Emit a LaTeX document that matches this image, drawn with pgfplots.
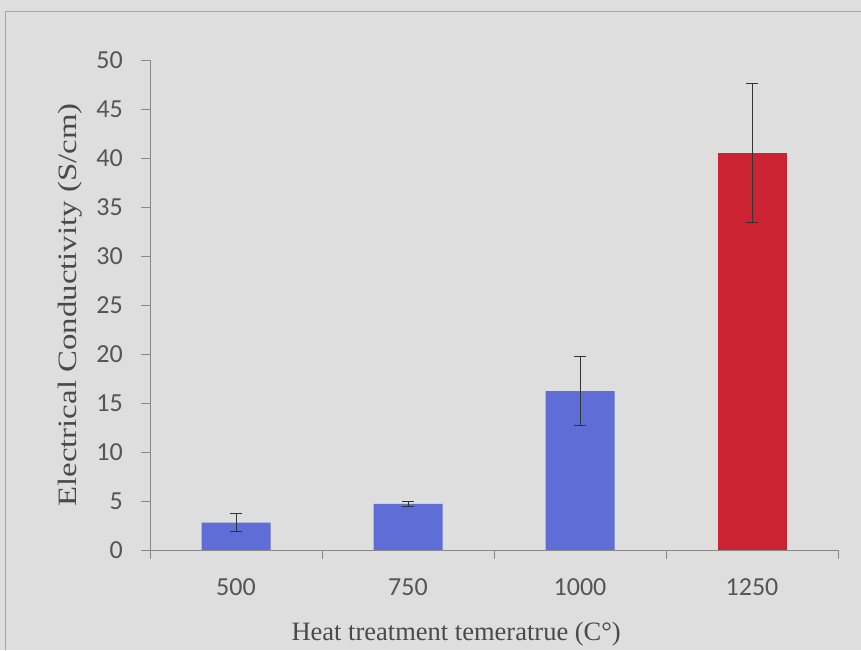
\documentclass[border=0pt]{standalone}
\usepackage{pgfplots}
\pgfplotsset{compat=1.18}
\usepackage{fontspec}
\setmainfont{Liberation Serif}
\newfontfamily\tickfont{Carlito}
\definecolor{bg}{HTML}{DEDEDE}
\definecolor{barblue}{HTML}{5F6ED6}
\definecolor{barred}{HTML}{CC2332}
\definecolor{axisgray}{HTML}{888888}
\definecolor{ticktext}{HTML}{555555}
\definecolor{labeltext}{HTML}{4A4A4A}
\begin{document}
\begin{tikzpicture}
\useasboundingbox (0pt,0pt) rectangle (861pt,650pt);
\fill[bg] (0pt,0pt) rectangle (861pt,650pt);
\draw[gray!70, line width=1pt] (5pt,0pt) -- (5pt,638pt) -- (861pt,638pt);
\begin{axis}[
  at={(150pt,100pt)}, anchor=south west,
  scale only axis, width=688pt, height=490pt,
  xmin=-0.5, xmax=3.5, ymin=0, ymax=50,
  axis x line*=bottom, axis y line*=left,
  axis line style={draw=axisgray, line width=0.9pt},
  xtick={0,1,2,3}, xticklabels={500,750,1000,1250},
  minor xtick={-0.5,0.5,1.5,2.5,3.5},
  major x tick style={draw=none},
  minor x tick style={draw=axisgray, line width=0.9pt},
  ytick={0,5,...,50},
  major y tick style={draw=axisgray, line width=0.9pt},
  tick align=outside, major tick length=9pt, minor tick length=9pt,
  ticklabel style={font=\fontsize{26}{26}\selectfont\tickfont, text=ticktext},
  /pgf/number format/assume math mode=true,
  yticklabel style={anchor=east, inner sep=0pt, xshift=-18pt},
  xticklabel style={anchor=north, inner sep=0pt, yshift=-19pt},
  xlabel={Heat treatment temeratrue (C°)},
  ylabel={\scalebox{1.24}[1]{Electrical Conductivity (S/cm)}},
  label style={font=\fontsize{26.5}{26.5}\selectfont, text=labeltext},
  xlabel style={at={(axis description cs:0.445,-0.1837)}, anchor=base},
  ylabel style={at={(axis description cs:-0.1163,0.5)}, anchor=center},
  ybar, bar width=69pt,
  error bars/error bar style={draw=black!80, line width=1pt},
  error bars/error mark options={rotate=90, draw=black!80, line width=1pt, mark size=6pt},
  clip=false,
]
\addplot[fill=barblue, draw=none, bar shift=0pt,
  error bars/.cd, y dir=both, y explicit]
  coordinates {(0,2.8) +- (0,0.93) (1,4.7) +- (0,0.25) (2,16.2) +- (0,3.5)};
\addplot[fill=barred, draw=none, bar shift=0pt,
  error bars/.cd, y dir=both, y explicit]
  coordinates {(3,40.5) +- (0,7.1)};
\end{axis}
\end{tikzpicture}
\end{document}
